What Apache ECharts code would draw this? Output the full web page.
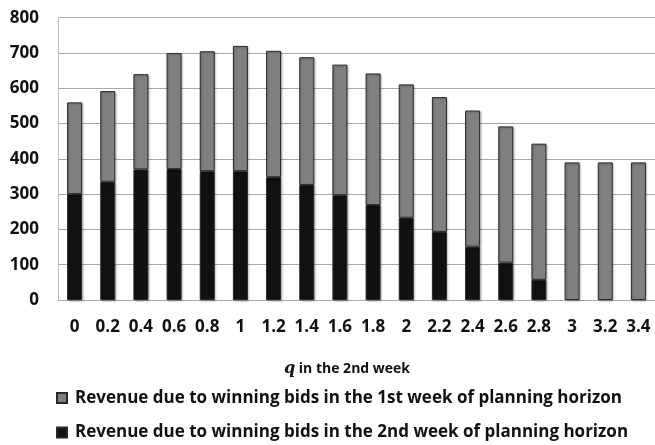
<!DOCTYPE html>
<html>
<head>
<meta charset="utf-8">
<script src="https://cdn.jsdelivr.net/npm/echarts@6/dist/echarts.min.js"></script>
<style>
html,body{margin:0;padding:0;background:#fff;}
#chart{width:655px;height:445px;}
</style>
</head>
<body>
<div id="chart"></div>
<script>
const categories = ['0','0.2','0.4','0.6','0.8','1','1.2','1.4','1.6','1.8','2','2.2','2.4','2.6','2.8','3','3.2','3.4'];
const week2Revenue = [300,335,370,371,365,365,348,326,297,269,233,193,151,106,57,0,0,0];
const week1Revenue = [260,257,270,329,340,355,358,362,370,373,378,382,386,386,386,390,390,390];
const yTicks = [0,100,200,300,400,500,600,700,800];
const name1 = 'Revenue due to winning bids in the 1st week of planning horizon';
const name2 = 'Revenue due to winning bids in the 2nd week of planning horizon';

const FONT = '"Open Sans", sans-serif';
const chart = echarts.init(document.getElementById('chart'), null, {renderer:'canvas'});
chart.setOption({
  animation:false,
  backgroundColor:'#fff',
  grid:{left:58,top:17.7,width:600,bottom:145},
  title:{
    text:'{q|q} in the 2nd week',
    left:279, top:356,
    textStyle:{
      fontFamily:FONT, fontSize:14, fontWeight:'bold', color:'#111',
      rich:{q:{fontFamily:'"DejaVu Serif", "Liberation Serif", serif', fontStyle:'italic', fontWeight:'bold', fontSize:16, color:'#111'}}
    }
  },
  legend:[
    {data:[name1], orient:'vertical', left:56, top:389, padding:0, itemWidth:10, itemHeight:10, icon:'rect',
     textStyle:{fontFamily:FONT, fontSize:17, fontWeight:'bold', color:'#111', lineHeight:18, padding:[0,0,0,3]}},
    {data:[name2], orient:'vertical', left:56, top:423.5, padding:0, itemWidth:10, itemHeight:10, icon:'rect',
     textStyle:{fontFamily:FONT, fontSize:17, fontWeight:'bold', color:'#111', lineHeight:18, padding:[0,0,0,3]}}
  ],
  xAxis:{
    type:'category', data:categories,
    axisLine:{show:true, lineStyle:{color:'#a8a8a8', width:1}},
    axisTick:{show:false},
    axisLabel:{interval:0, margin:19, fontFamily:FONT, fontSize:17, fontWeight:'bold', color:'#111'}
  },
  yAxis:{
    type:'value', min:0, max:800, interval:100,
    axisLine:{show:true, lineStyle:{color:'#bdbdbd', width:1}},
    axisTick:{show:false},
    splitLine:{lineStyle:{color:'#a8a8a8', width:1}},
    axisLabel:{margin:19, fontFamily:FONT, fontSize:17, fontWeight:'bold', color:'#111',
      formatter:function(v){return yTicks.indexOf(v)>=0 ? String(v) : '';}}
  },
  series:[
    {name:name2, type:'bar', stack:'rev', data:week2Revenue.map(v => v === 0 ? null : v), barWidth:15,
     itemStyle:{color:'#111111', borderColor:'#2a2a2a', borderWidth:1, shadowColor:'rgba(0,0,0,0.25)', shadowBlur:2, shadowOffsetX:1, shadowOffsetY:1}},
    {name:name1, type:'bar', stack:'rev', data:week1Revenue, barWidth:15,
     itemStyle:{color:'#808080', borderColor:'#2a2a2a', borderWidth:1, shadowColor:'rgba(0,0,0,0.25)', shadowBlur:2, shadowOffsetX:1, shadowOffsetY:1}}
  ]
});
</script>
</body>
</html>
